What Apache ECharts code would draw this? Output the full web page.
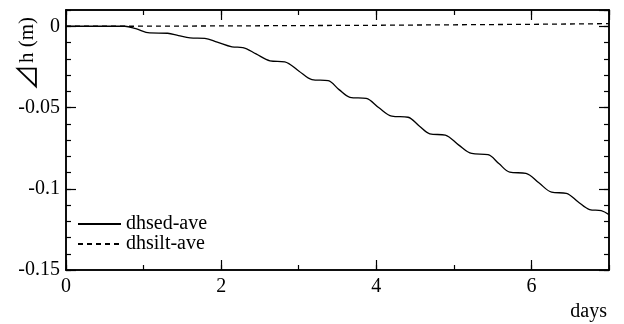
<!DOCTYPE html>
<html>
<head>
<meta charset="utf-8">
<script src="https://cdn.jsdelivr.net/npm/echarts@6/dist/echarts.min.js"></script>
<style>
  html, body { margin: 0; padding: 0; background: #fff; }
  #chart { width: 624px; height: 324px; }
</style>
</head>
<body>
<div id="chart"></div>
<script>
// Elevation change of the bed (dhsed) and silt layer (dhsilt), averaged, over time in days
const dhsedDays = [0, 0.5, 0.76, 0.9, 1.08, 1.31, 1.45, 1.6, 1.79, 1.95, 2.14, 2.28, 2.45, 2.63, 2.82, 3.0, 3.17, 3.38, 3.52, 3.66, 3.87, 4.03, 4.2, 4.41, 4.55, 4.69, 4.89, 5.06, 5.23, 5.44, 5.58, 5.72, 5.93, 6.1, 6.26, 6.45, 6.6, 6.75, 6.9, 7.0];
const dhsedValues = [0, 0, 0, -0.0015, -0.0041, -0.0043, -0.0057, -0.0071, -0.0074, -0.0098, -0.0127, -0.0131, -0.0170, -0.0213, -0.0219, -0.0275, -0.0328, -0.0335, -0.0390, -0.0437, -0.0444, -0.0500, -0.0553, -0.0560, -0.0612, -0.0662, -0.0670, -0.0730, -0.0783, -0.0790, -0.0845, -0.0898, -0.0905, -0.0965, -0.1021, -0.1028, -0.1080, -0.1128, -0.1135, -0.1159];

const dhsiltDays = [0, 0.8, 2, 3, 4, 5, 6, 7];
const dhsiltValues = [0, 0, 0.0002, 0.0004, 0.0006, 0.0009, 0.0012, 0.0016];

const seriesNames = ['dhsed-ave', 'dhsilt-ave'];
const xTickLabels = ['0', '2', '4', '6'];
const yTickLabels = ['-0.15', '-0.1', '-0.05', '0'];
const xTitle = 'days';
const yTitleSymbol = '⊿';
const yTitleRest = 'h (m)';

const FONT = '"Liberation Serif", "Times New Roman", serif';
const SYMBOL_FONT = '"Noto Sans CJK JP", "DejaVu Sans", sans-serif';
const INK = '#000';

const pairs = (xs, ys) => xs.map((x, i) => [x, ys[i]]);

function xAxisDef(position, interval, tickLen, withLabels) {
  return {
    type: 'value', position, min: 0, max: 7, interval,
    axisLine: { show: true, onZero: false, lineStyle: { color: INK, width: 1.5 } },
    axisTick: { show: true, inside: true, length: tickLen, lineStyle: { color: INK, width: 1.2 } },
    axisLabel: withLabels ? {
      show: true, margin: 7, color: INK, fontFamily: FONT, fontSize: 20,
      showMaxLabel: false,
      formatter: v => xTickLabels.includes(String(v)) ? String(v) : ''
    } : { show: false },
    splitLine: { show: false }
  };
}

function yAxisDef(position, interval, tickLen, withLabels) {
  return {
    type: 'value', position, min: -0.15, max: 0.01, interval,
    axisLine: { show: true, onZero: false, lineStyle: { color: INK, width: 1.5 } },
    axisTick: { show: true, inside: true, length: tickLen, lineStyle: { color: INK, width: 1.2 } },
    axisLabel: withLabels ? {
      show: true, margin: 6, color: INK, fontFamily: FONT, fontSize: 20,
      showMaxLabel: false,
      formatter: v => {
        const s = String(Math.round(v * 100) / 100);
        return yTickLabels.includes(s) ? s : '';
      }
    } : { show: false },
    splitLine: { show: false }
  };
}

const chart = echarts.init(document.getElementById('chart'), null, { renderer: 'canvas' });
chart.setOption({
  backgroundColor: '#fff',
  animation: false,
  grid: { left: 66, right: 15, top: 10, bottom: 54 },
  xAxis: [
    xAxisDef('bottom', 1, 5, false),
    xAxisDef('bottom', 2, 10, true),
    xAxisDef('top', 1, 5, false),
    xAxisDef('top', 2, 10, false)
  ],
  yAxis: [
    yAxisDef('left', 0.01, 5, false),
    yAxisDef('left', 0.05, 10, true),
    yAxisDef('right', 0.01, 5, false),
    yAxisDef('right', 0.05, 10, false)
  ],
  legend: {
    orient: 'vertical', left: 77, top: 214, padding: 0,
    itemWidth: 43, itemHeight: 14, itemGap: 0,
    itemStyle: { opacity: 0 },
    textStyle: { color: INK, fontFamily: FONT, fontSize: 20, lineHeight: 20 },
    data: seriesNames
  },
  series: [
    {
      name: seriesNames[0], type: 'line', xAxisIndex: 1, yAxisIndex: 1,
      data: pairs(dhsedDays, dhsedValues), showSymbol: false, symbol: 'none',
      smooth: 0.35,
      lineStyle: { color: INK, width: 1.3 }, itemStyle: { color: INK }
    },
    {
      name: seriesNames[1], type: 'line', xAxisIndex: 1, yAxisIndex: 1,
      data: pairs(dhsiltDays, dhsiltValues), showSymbol: false, symbol: 'none',
      lineStyle: { color: INK, width: 1.3, type: [5, 4] }, itemStyle: { color: INK }
    }
  ],
  graphic: [
    {
      type: 'text', x: 27, y: 54, rotation: Math.PI / 2,
      style: {
        text: '{s|' + yTitleSymbol + '}{t|' + yTitleRest + '}',
        fill: INK, textAlign: 'center', textVerticalAlign: 'middle',
        rich: {
          s: { fontFamily: SYMBOL_FONT, fontSize: 27, fill: INK, padding: [0, 1, 0, 0] },
          t: { fontFamily: FONT, fontSize: 21, fill: INK }
        }
      }
    },
    {
      type: 'text', x: 607, y: 312,
      style: { text: xTitle, fill: INK, font: '20px ' + FONT, textAlign: 'right', textVerticalAlign: 'middle' }
    }
  ]
});
</script>
</body>
</html>
